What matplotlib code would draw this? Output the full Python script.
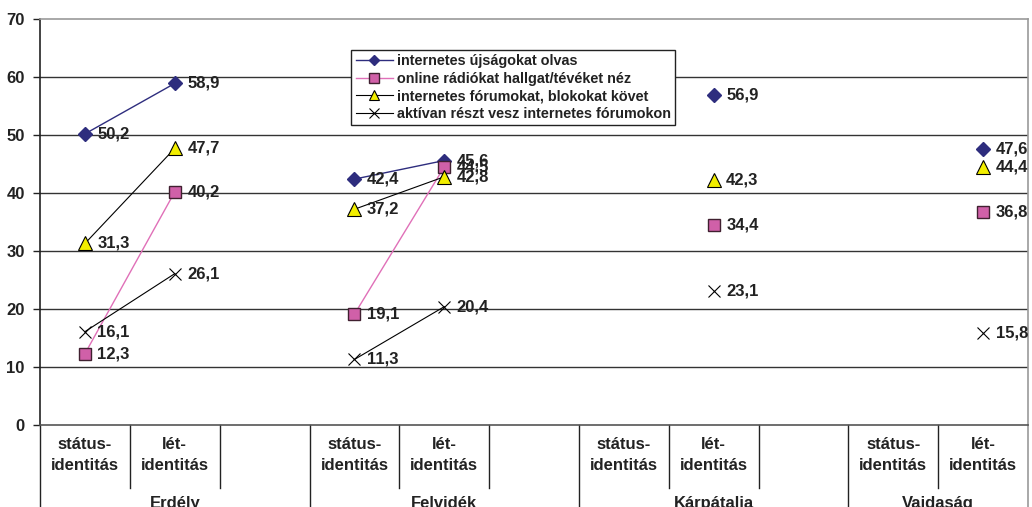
import numpy as np
import matplotlib.pyplot as plt

plt.rcParams['font.family'] = ['Liberation Sans', 'DejaVu Sans']
plt.rcParams['font.weight'] = 'bold'

# Adatok (régiónként: státus-identitás, lét-identitás; nan = nincs adat)
regions = ["Erdély", "Felvidék", "Kárpátalja", "Vajdaság"]
subcats = ["státus-\nidentitás", "lét-\nidentitás"]
names = ["internetes újságokat olvas",
         "online rádiókat hallgat/tévéket néz",
         "internetes fórumokat, blokokat követ",
         "aktívan részt vesz internetes fórumokon"]
ujsag = [(50.2, 58.9), (42.4, 45.6), (np.nan, 56.9), (np.nan, 47.6)]
radio = [(12.3, 40.2), (19.1, 44.5), (np.nan, 34.4), (np.nan, 36.8)]
forum = [(31.3, 47.7), (37.2, 42.8), (np.nan, 42.3), (np.nan, 44.4)]
aktiv = [(16.1, 26.1), (11.3, 20.4), (np.nan, 23.1), (np.nan, 15.8)]


def to_slots(pairs):
    # minden régió után egy üres hely, kivéve az utolsót
    out = []
    for i, (a, b) in enumerate(pairs):
        out += [a, b]
        if i < len(pairs) - 1:
            out.append(np.nan)
    return np.array(out, dtype=float)


styles = [
    dict(color='#2E2D7E', marker='D', ms=7, mfc='#2E2D7E', mec='#2E2D7E', lw=1.0),
    dict(color='#E070B8', marker='s', ms=9, mfc='#D060A8', mec='#402030', mew=1.0, lw=1.0),
    dict(color='black', marker='^', ms=9.5, mfc='#F2EE00', mec='black', mew=0.8, lw=0.8),
    dict(color='black', marker='x', ms=9, mec='black', mew=0.8, lw=0.8),
]

fig = plt.figure(figsize=(10.32, 5.07), dpi=100)
ax = fig.add_axes([0.0388, 0.1617, 0.9574, 0.8008])

n = len(to_slots(ujsag))
x = np.arange(n)
for data, name, st in zip([ujsag, radio, forum, aktiv], names, styles):
    y = to_slots(data)
    ax.plot(x, y, label=name, zorder=3, **st)
    for xi, yi in zip(x, y):
        if not np.isnan(yi):
            ax.annotate(f"{yi:.1f}".replace('.', ','), (xi, yi), xytext=(9, 0),
                        textcoords='offset points', va='center', ha='left',
                        fontsize=12, fontweight='bold', color='#222222', zorder=4)

ax.set_xlim(-0.5, n - 0.5)
ax.set_ylim(0, 70)
ax.set_yticks(range(0, 71, 10))
ax.tick_params(axis='y', direction='out', length=5, width=1, labelsize=12, pad=6, colors='#222222')
for lbl in ax.get_yticklabels():
    lbl.set_fontweight('bold')
ax.set_xticks([])
for v in range(10, 70, 10):
    ax.axhline(v, color='#333333', lw=1.0, zorder=1)
ax.spines['top'].set_color('#999999')
ax.spines['right'].set_color('#999999')
ax.spines['left'].set_color('#222222')
ax.spines['bottom'].set_color('#555555')
for s in ax.spines.values():
    s.set_linewidth(1.2)

# kétszintű kategória-tengely
trans = ax.get_xaxis_transform()
full_len = -0.21
short_len = -0.155
slot = 0
for r, reg in enumerate(regions):
    start = slot
    ax.plot([start - 0.5] * 2, [0, full_len], transform=trans, color='#222222', lw=1, clip_on=False)
    for k, sc in enumerate(subcats):
        ax.text(slot, -0.03, sc, transform=trans, ha='center', va='top', fontsize=12,
                fontweight='bold', color='#222222', linespacing=1.45)
        if k < len(subcats) - 1 or r < len(regions) - 1:
            ax.plot([slot + 0.5] * 2, [0, short_len], transform=trans, color='#222222', lw=1, clip_on=False)
        slot += 1
    end = slot - 0.5 if r == len(regions) - 1 else slot + 0.5
    ax.text((start - 0.5 + end) / 2, -0.176, reg, transform=trans, ha='center', va='top',
            fontsize=12, fontweight='bold', color='#222222')
    if r < len(regions) - 1:
        slot += 1
ax.plot([n - 0.5] * 2, [0, full_len], transform=trans, color='#999999', lw=1.2, clip_on=False)

leg = ax.legend(loc='upper left', bbox_to_anchor=(0.315, 0.924), frameon=True, fancybox=False,
                edgecolor='#222222', framealpha=1, fontsize=10.4, handlelength=2.6,
                handletextpad=0.25, labelspacing=0.25, borderpad=0.3, borderaxespad=0,
                markerscale=0.75)
leg.get_frame().set_linewidth(1.0)
leg.set_zorder(5)
for t in leg.get_texts():
    t.set_fontweight('bold')
    t.set_color('#222222')

fig.savefig('out.png', dpi=100)
